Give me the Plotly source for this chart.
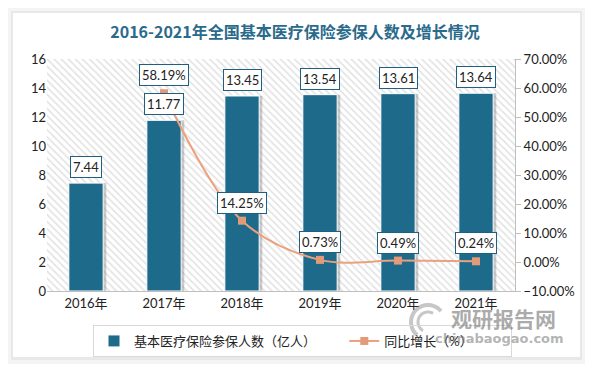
import math
import plotly.graph_objects as go

years = ["2016年", "2017年", "2018年", "2019年", "2020年", "2021年"]
insured = [7.44, 11.77, 13.45, 13.54, 13.61, 13.64]
growth = [None, 58.19, 14.25, 0.73, 0.49, 0.24]

bar_name = "基本医疗保险参保人数（亿人）" + "\u00a0" * 7
line_name = "同比增长（%）" + "\u00a0" * 10
title = "2016-2021年全国基本医疗保险参保人数及增长情况"

# page body has an 8px default margin: lay out in reference pixels minus 8
O = 8
W, H = 594 - O, 372 - O
L, R, T, B = 47 - O, 515 - O, 59 - O, 291 - O
pw, ph = R - L, B - T


def px(x):
    return (x - O - L) / pw


def py(y):
    return (B - (y - O)) / ph


FONT = "Lato, 'Noto Sans CJK SC', sans-serif"
BAR_C = "#1d6a8b"
LINE_C = "#eaa17e"
xs = list(range(len(years)))

fig = go.Figure()

# hatched plot background
fig.add_trace(go.Bar(
    x=[(len(years) - 1) / 2], y=[16], width=[len(years)], base=0,
    marker=dict(color="white", line=dict(width=0),
                pattern=dict(shape="\\", fgcolor="#c4c4c4", bgcolor="white", size=5, solidity=0.3)),
    hoverinfo="skip", showlegend=False,
))

# soft bar shadows
fig.add_trace(go.Bar(
    x=[i + 0.04 for i in xs], y=insured, width=0.44,
    marker=dict(color="rgba(110,110,110,0.35)", line=dict(width=0)),
    hoverinfo="skip", showlegend=False,
))

fig.add_trace(go.Bar(
    x=xs, y=insured, width=0.44, name=bar_name,
    marker=dict(color=BAR_C, line=dict(color="white", width=1)),
))

fig.add_trace(go.Scatter(
    x=xs, y=growth, yaxis="y2", name=line_name, mode="lines+markers",
    line=dict(color=LINE_C, width=2, shape="spline", smoothing=1),
    marker=dict(symbol="square", size=8, color="#e39a78"),
    connectgaps=False,
))

ann = []
for i, v in enumerate(insured):
    ann.append(dict(x=i, y=v, xref="x", yref="y", yanchor="bottom", yshift=5,
                    text=f"{v:.2f}", showarrow=False, bgcolor="white",
                    bordercolor="#1f6080", borderwidth=1, borderpad=2,
                    font=dict(family=FONT, size=13, color="#222")))
for i, g in enumerate(growth):
    if g is None:
        continue
    ann.append(dict(x=i, y=g, xref="x", yref="y2", yanchor="bottom", yshift=7,
                    text=f"{g:.2f}%", showarrow=False, bgcolor="white",
                    bordercolor="#1f6080", borderwidth=1, borderpad=2,
                    font=dict(family=FONT, size=13, color="#222")))

# watermark
ann.append(dict(x=px(503), y=py(318), xref="paper", yref="paper", xanchor="center", yanchor="middle",
                text="<b>观研报告网</b>", showarrow=False,
                font=dict(family="'Noto Sans CJK SC'", size=21, color="rgba(115,115,115,0.6)")))
ann.append(dict(x=px(499), y=py(338), xref="paper", yref="paper", xanchor="center", yanchor="middle",
                text="<b>chinabaogao.com</b>", showarrow=False,
                font=dict(family="'DejaVu Sans'", size=13, color="rgba(115,115,115,0.55)")))


def arc(cx, cy, r, a0, a1, n=24):
    pts = []
    for k in range(n + 1):
        a = math.radians(a0 + (a1 - a0) * k / n)
        pts.append((px(cx + r * math.cos(a)), py(cy - r * math.sin(a))))
    return "M " + " L ".join(f"{x:.4f},{y:.4f}" for x, y in pts)


shapes = [
    dict(type="rect", xref="paper", yref="paper", layer="below",
         x0=px(8), x1=px(585), y0=py(8), y1=py(364), fillcolor="#f4f4f4", line=dict(width=0)),
    dict(type="rect", xref="paper", yref="paper", layer="below",
         x0=px(11), x1=px(582), y0=py(11), y1=py(360), fillcolor="#e8e8e8", line=dict(width=0)),
    dict(type="rect", xref="paper", yref="paper", layer="below",
         x0=px(13), x1=px(580), y0=py(13), y1=py(357), fillcolor="white", line=dict(width=0)),
    dict(type="path", xref="paper", yref="paper", path=arc(428, 322, 17, 40, 230),
         line=dict(color="rgba(130,130,130,0.45)", width=4)),
    dict(type="path", xref="paper", yref="paper", path=arc(428, 322, 10, 60, 240),
         line=dict(color="rgba(130,130,130,0.45)", width=3)),
]

fig.update_layout(
    width=W, height=H,
    margin=dict(l=L, r=W - R, t=T, b=H - B),
    paper_bgcolor="white", plot_bgcolor="white",
    barmode="overlay",
    font=dict(family=FONT, size=13, color="#333"),
    title=dict(text=f"<b>{title}</b>", x=(295 - O) / W, xanchor="center", y=1 - (32 - O) / H, yanchor="middle",
               font=dict(family="'Noto Sans CJK SC'", size=16, color="#2a6b8c")),
    xaxis=dict(range=[-0.5, len(years) - 0.5], tickvals=xs, ticktext=years,
               showline=True, linecolor="#bfbfbf", showgrid=False, zeroline=False,
               ticks="", tickfont=dict(size=13, color="#222")),
    yaxis=dict(range=[0, 16], dtick=2, showgrid=False, zeroline=False, showline=False,
               tickfont=dict(size=13, color="#222")),
    yaxis2=dict(range=[-10, 70], dtick=10, overlaying="y", side="right",
                tickformat=".2f", ticksuffix="%", showgrid=False, zeroline=False,
                showline=True, linecolor="#bfbfbf", ticks="outside", ticklen=5, tickcolor="#bfbfbf",
                tickfont=dict(size=13, color="#222")),
    legend=dict(orientation="h", x=px(93), y=py(325), xanchor="left", yanchor="top",
                bordercolor="#d9d9d9", borderwidth=1, bgcolor="rgba(255,255,255,0)",
                font=dict(size=13, color="#222"), traceorder="normal"),
    annotations=ann, shapes=shapes,
    showlegend=True,
)

fig.write_html("out.html")
